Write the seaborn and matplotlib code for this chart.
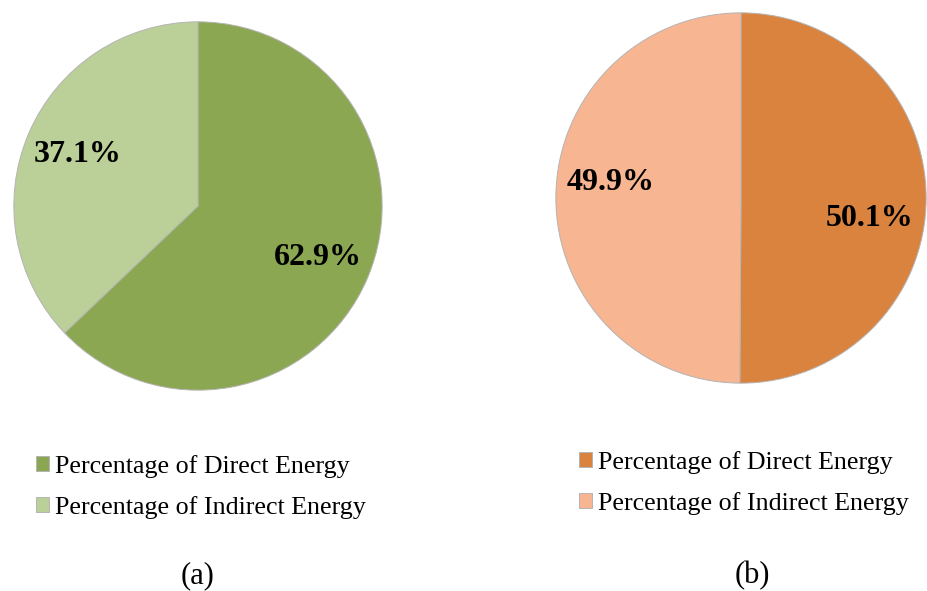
import matplotlib
matplotlib.use("Agg")
import matplotlib.pyplot as plt
import seaborn as sns

# ── Data ─────────────────────────────────────────────────────────────────────
labels = ["Percentage of Direct Energy", "Percentage of Indirect Energy"]
share_a = [62.9, 37.1]
share_b = [50.1, 49.9]
colors_a = ["#8BA751", "#BBCF98"]
colors_b = ["#D9833F", "#F7B591"]
captions = ["(a)", "(b)"]

sns.set_style("white")
plt.rcParams["font.family"] = ["Liberation Serif", "DejaVu Serif"]
plt.rcParams["text.color"] = "black"

W, H = 927, 591
fig = plt.figure(figsize=(W / 100, H / 100), dpi=100)


def px_axes(x0, y0, x1, y1):
    # pixel box (top-left origin) -> figure fraction axes
    return fig.add_axes([x0 / W, 1 - y1 / H, (x1 - x0) / W, (y1 - y0) / H])


def draw_pie(ax, values, colors, label_pos=None):
    wedges, _, autotexts = ax.pie(
        values, colors=colors, startangle=90, counterclock=False,
        autopct="%.1f%%", pctdistance=0.71,
        wedgeprops=dict(edgecolor="#b4b4b4", linewidth=0.7),
        textprops=dict(fontsize=23, fontweight="bold", color="black"),
    )
    if label_pos is not None:
        for t, p in zip(autotexts, label_pos):
            t.set_position(p)
    ax.set_xlim(-1.01, 1.01)
    ax.set_ylim(-1.01, 1.01)
    ax.set_aspect("equal")
    ax.axis("off")
    return wedges


ax_a = px_axes(12, 20, 384, 392)
wedges_a = draw_pie(ax_a, share_a, colors_a)

ax_b = px_axes(554, 11, 928, 385)
wedges_b = draw_pie(ax_b, share_b, colors_b,
                    label_pos=[(0.695, -0.11), (-0.705, 0.085)])

# legends
leg_kw = dict(frameon=False, fontsize=18.7, labelspacing=0.69,
              handlelength=0.5, handleheight=0.5,
              handletextpad=0.25, borderpad=0, borderaxespad=0)
fig.legend(wedges_a, labels, loc="upper left",
           bbox_to_anchor=(36 / W, 1 - 455 / H), **leg_kw)
fig.legend(wedges_b, labels, loc="upper left",
           bbox_to_anchor=(579 / W, 1 - 451 / H), **leg_kw)

# captions
fig.text(198 / W, 1 - 576 / H, captions[0], ha="center", va="center", fontsize=22)
fig.text(752 / W, 1 - 576 / H, captions[1], ha="center", va="center", fontsize=22)

fig.savefig("out.png", dpi=100)
